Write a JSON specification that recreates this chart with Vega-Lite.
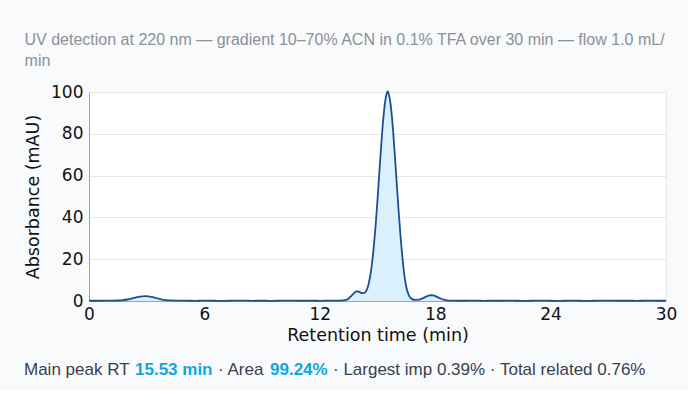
{
  "$schema": "https://vega.github.io/schema/vega-lite/v6.json",
  "background": "#f8fafc",
  "padding": {"left": 24, "top": 31, "right": 10, "bottom": 10},
  "config": {
    "font": "Liberation Sans",
    "view": {"stroke": null}
  },
  "spacing": 17,
  "vconcat": [
    {
      "width": 577,
      "height": 209,
      "title": {
        "text": ["UV detection at 220 nm — gradient 10–70% ACN in 0.1% TFA over 30 min — flow 1.0 mL/", "min"],
        "anchor": "start",
        "frame": "bounds",
        "font": "Liberation Sans",
        "fontSize": 16,
        "fontWeight": "normal",
        "color": "#8b9099",
        "lineHeight": 21,
        "offset": 14
      },
      "view": {"fill": "#ffffff", "stroke": "#e5e7eb", "strokeWidth": 1},
      "data": {
        "values": [
          {"t": 0, "a": 0.15}, {"t": 0.5, "a": 0.12}, {"t": 1.0, "a": 0.18}, {"t": 1.5, "a": 0.25},
          {"t": 1.75, "a": 0.4}, {"t": 2.0, "a": 0.72}, {"t": 2.25, "a": 1.22}, {"t": 2.5, "a": 1.82},
          {"t": 2.75, "a": 2.26}, {"t": 3.0, "a": 2.3}, {"t": 3.25, "a": 1.95}, {"t": 3.5, "a": 1.36},
          {"t": 3.75, "a": 0.82}, {"t": 4.0, "a": 0.46}, {"t": 4.25, "a": 0.27}, {"t": 4.5, "a": 0.18},
          {"t": 5.0, "a": 0.14}, {"t": 5.5, "a": 0.1}, {"t": 6.0, "a": 0.16}, {"t": 6.5, "a": 0.12},
          {"t": 7.0, "a": 0.08}, {"t": 7.5, "a": 0.14}, {"t": 8.0, "a": 0.17}, {"t": 8.5, "a": 0.1},
          {"t": 9.0, "a": 0.13}, {"t": 9.5, "a": 0.09}, {"t": 10.0, "a": 0.15}, {"t": 10.5, "a": 0.18},
          {"t": 11.0, "a": 0.11}, {"t": 11.5, "a": 0.14}, {"t": 12.0, "a": 0.1}, {"t": 12.5, "a": 0.16},
          {"t": 13.0, "a": 0.2}, {"t": 13.2, "a": 0.28}, {"t": 13.3, "a": 0.38}, {"t": 13.4, "a": 0.65},
          {"t": 13.5, "a": 1.2}, {"t": 13.6, "a": 2.05}, {"t": 13.7, "a": 3.05}, {"t": 13.8, "a": 3.95},
          {"t": 13.9, "a": 4.6}, {"t": 14.0, "a": 4.55}, {"t": 14.1, "a": 4.1}, {"t": 14.2, "a": 3.8},
          {"t": 14.3, "a": 3.85}, {"t": 14.4, "a": 4.6}, {"t": 14.5, "a": 6.8}, {"t": 14.6, "a": 10.9},
          {"t": 14.7, "a": 16.9}, {"t": 14.8, "a": 25.3}, {"t": 14.9, "a": 35.9}, {"t": 15.0, "a": 48.4},
          {"t": 15.1, "a": 62.0}, {"t": 15.2, "a": 75.4}, {"t": 15.3, "a": 87.1}, {"t": 15.4, "a": 95.5},
          {"t": 15.5, "a": 99.8}, {"t": 15.53, "a": 100.3}, {"t": 15.6, "a": 98.5}, {"t": 15.7, "a": 92.6},
          {"t": 15.8, "a": 82.7}, {"t": 15.9, "a": 70.1}, {"t": 16.0, "a": 56.3}, {"t": 16.1, "a": 42.8},
          {"t": 16.2, "a": 30.6}, {"t": 16.3, "a": 20.4}, {"t": 16.4, "a": 12.2}, {"t": 16.5, "a": 6.6},
          {"t": 16.6, "a": 3.4}, {"t": 16.7, "a": 1.7}, {"t": 16.8, "a": 0.9}, {"t": 16.9, "a": 0.6},
          {"t": 17.0, "a": 0.55}, {"t": 17.1, "a": 0.62}, {"t": 17.2, "a": 0.78}, {"t": 17.3, "a": 1.1},
          {"t": 17.4, "a": 1.5}, {"t": 17.5, "a": 1.95}, {"t": 17.6, "a": 2.35}, {"t": 17.7, "a": 2.65},
          {"t": 17.8, "a": 2.75}, {"t": 17.9, "a": 2.65}, {"t": 18.0, "a": 2.35}, {"t": 18.1, "a": 1.95},
          {"t": 18.2, "a": 1.5}, {"t": 18.3, "a": 1.1}, {"t": 18.4, "a": 0.75}, {"t": 18.5, "a": 0.5},
          {"t": 18.6, "a": 0.34}, {"t": 18.8, "a": 0.2}, {"t": 19.0, "a": 0.15}, {"t": 19.5, "a": 0.12},
          {"t": 20.0, "a": 0.17}, {"t": 20.5, "a": 0.1}, {"t": 21.0, "a": 0.14}, {"t": 21.5, "a": 0.11},
          {"t": 22.0, "a": 0.16}, {"t": 22.5, "a": 0.09}, {"t": 23.0, "a": 0.13}, {"t": 23.5, "a": 0.18},
          {"t": 24.0, "a": 0.12}, {"t": 24.5, "a": 0.1}, {"t": 25.0, "a": 0.15}, {"t": 25.5, "a": 0.13},
          {"t": 26.0, "a": 0.08}, {"t": 26.5, "a": 0.14}, {"t": 27.0, "a": 0.17}, {"t": 27.5, "a": 0.11},
          {"t": 28.0, "a": 0.13}, {"t": 28.5, "a": 0.09}, {"t": 29.0, "a": 0.15}, {"t": 29.5, "a": 0.12},
          {"t": 30.0, "a": 0.14}
        ]
      },
      "encoding": {
        "x": {
          "field": "t",
          "type": "quantitative",
          "scale": {"domain": [0, 30], "nice": false},
          "axis": {
            "title": "Retention time (min)",
            "values": [0, 6, 12, 18, 24, 30],
            "grid": false,
            "ticks": false,
            "labelFont": "DejaVu Sans",
            "labelFontSize": 17,
            "labelColor": "#111111",
            "labelPadding": 5,
            "labelFlush": false,
            "titleFont": "DejaVu Sans",
            "titleFontSize": 17.5,
            "titleFontWeight": "normal",
            "titleColor": "#111111",
            "titlePadding": 4,
            "domainColor": "#9ca3af"
          }
        },
        "y": {
          "field": "a",
          "type": "quantitative",
          "scale": {"domain": [0, 100], "nice": false},
          "axis": {
            "title": "Absorbance (mAU)",
            "values": [0, 20, 40, 60, 80, 100],
            "grid": true,
            "gridColor": "#e5e7eb",
            "ticks": false,
            "labelFont": "DejaVu Sans",
            "labelFontSize": 17,
            "labelColor": "#111111",
            "labelPadding": 6,
            "titleFont": "DejaVu Sans",
            "titleFontSize": 17.5,
            "titleFontWeight": "normal",
            "titleColor": "#111111",
            "titlePadding": 8,
            "domainColor": "#9ca3af"
          }
        }
      },
      "layer": [
        {"mark": {"type": "area", "color": "#daf0fc", "interpolate": "monotone"}},
        {"mark": {"type": "line", "color": "#1e4f96", "strokeWidth": 1.8, "interpolate": "monotone"}}
      ]
    },
    {
      "spacing": 5,
      "hconcat": [
        {"width": 1, "height": 1, "data": {"values": []}, "mark": "text",
         "title": {"text": "Main peak RT", "anchor": "start", "frame": "bounds", "fontSize": 17, "fontWeight": "normal", "color": "#374151", "offset": 0, "dx": -65}},
        {"width": 1, "height": 1, "data": {"values": []}, "mark": "text",
         "title": {"text": "15.53 min", "anchor": "start", "frame": "bounds", "fontSize": 17, "fontWeight": "bold", "color": "#0ea5e9", "offset": 0}},
        {"width": 1, "height": 1, "data": {"values": []}, "mark": "text",
         "title": {"text": "· Area", "anchor": "start", "frame": "bounds", "fontSize": 17, "fontWeight": "normal", "color": "#374151", "offset": 0}},
        {"width": 1, "height": 1, "data": {"values": []}, "mark": "text",
         "title": {"text": "99.24%", "anchor": "start", "frame": "bounds", "fontSize": 17, "fontWeight": "bold", "color": "#0ea5e9", "offset": 0}},
        {"width": 1, "height": 1, "data": {"values": []}, "mark": "text",
         "title": {"text": "· Largest imp 0.39% · Total related 0.76%", "anchor": "start", "frame": "bounds", "fontSize": 17, "fontWeight": "normal", "color": "#374151", "offset": 0}}
      ]
    }
  ]
}
